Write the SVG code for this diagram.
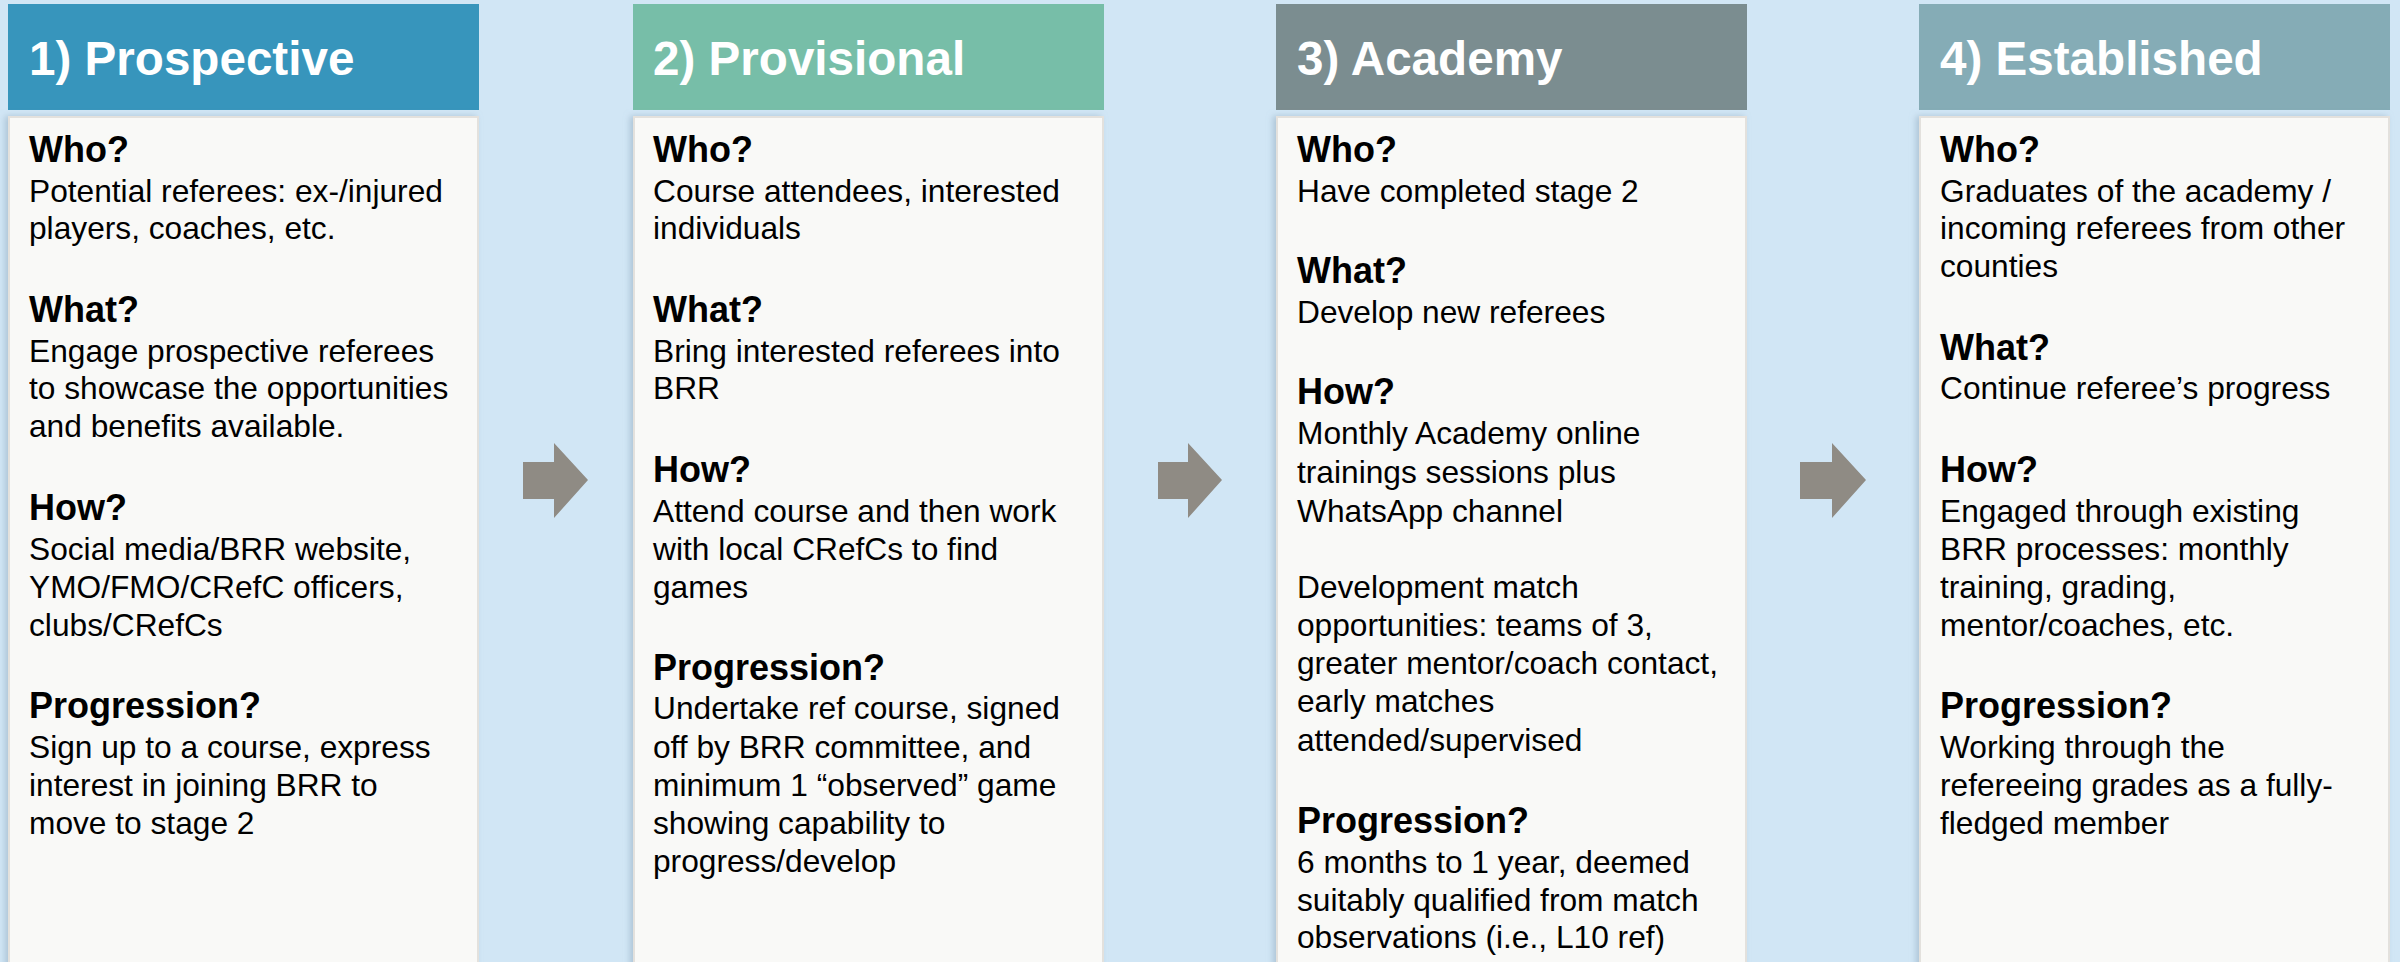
<svg xmlns="http://www.w3.org/2000/svg" width="2400" height="962" viewBox="0 0 2400 962">
<defs>
<filter id="sh" x="-5%" y="-5%" width="110%" height="110%">
<feDropShadow dx="-3" dy="0" stdDeviation="3" flood-color="#8FA9BD" flood-opacity="0.55"/>
</filter>
</defs>
<style>
.bg{fill:#D1E6F5}
.hd{font-family:"Liberation Sans",Arial,sans-serif;font-weight:bold;font-size:47.6px;fill:#FFFFFF}
.body{fill:#F9F9F7;stroke:#E3E1DD;stroke-width:2}
.q{font-family:"Liberation Sans",Arial,sans-serif;font-weight:bold;font-size:36px;fill:#000}
.t{font-family:"Liberation Sans",Arial,sans-serif;font-size:31.7px;fill:#000}
.arrow{fill:#8F8B84}
</style>
<rect class="bg" x="0" y="0" width="2400" height="962"/>

<g id="stage1">
<rect x="8" y="4" width="471" height="106" fill="#3795BC"/>
<text class="hd" x="29" y="75">1) Prospective</text>
<rect class="body" x="9" y="117" width="469" height="860" filter="url(#sh)"/>
<text class="q" x="29" y="162">Who?</text>
<text class="t" x="29" y="201.7">Potential referees: ex-/injured</text>
<text class="t" x="29" y="239.3">players, coaches, etc.</text>
<text class="q" x="29" y="321.7">What?</text>
<text class="t" x="29" y="361.7">Engage prospective referees</text>
<text class="t" x="29" y="399.3">to showcase the opportunities</text>
<text class="t" x="29" y="436.9">and benefits available.</text>
<text class="q" x="29" y="520">How?</text>
<text class="t" x="29" y="560">Social media/BRR website,</text>
<text class="t" x="29" y="598.3">YMO/FMO/CRefC officers,</text>
<text class="t" x="29" y="636">clubs/CRefCs</text>
<text class="q" x="29" y="718.3">Progression?</text>
<text class="t" x="29" y="757.7">Sign up to a course, express</text>
<text class="t" x="29" y="796">interest in joining BRR to</text>
<text class="t" x="29" y="834">move to stage 2</text>
</g>

<g id="stage2">
<rect x="633" y="4" width="471" height="106" fill="#77BEA8"/>
<text class="hd" x="653" y="75">2) Provisional</text>
<rect class="body" x="634" y="117" width="469" height="860" filter="url(#sh)"/>
<text class="q" x="653" y="162">Who?</text>
<text class="t" x="653" y="201.7">Course attendees, interested</text>
<text class="t" x="653" y="239.3">individuals</text>
<text class="q" x="653" y="321.7">What?</text>
<text class="t" x="653" y="361.7">Bring interested referees into</text>
<text class="t" x="653" y="399.3">BRR</text>
<text class="q" x="653" y="482">How?</text>
<text class="t" x="653" y="521.7">Attend course and then work</text>
<text class="t" x="653" y="560">with local CRefCs to find</text>
<text class="t" x="653" y="598.3">games</text>
<text class="q" x="653" y="680">Progression?</text>
<text class="t" x="653" y="719.3">Undertake ref course, signed</text>
<text class="t" x="653" y="757.7">off by BRR committee, and</text>
<text class="t" x="653" y="796">minimum 1 “observed” game</text>
<text class="t" x="653" y="834">showing capability to</text>
<text class="t" x="653" y="871.7">progress/develop</text>
</g>

<g id="stage3">
<rect x="1276" y="4" width="471" height="106" fill="#7B8D90"/>
<text class="hd" x="1297" y="75">3) Academy</text>
<rect class="body" x="1277" y="117" width="469" height="860" filter="url(#sh)"/>
<text class="q" x="1297" y="162">Who?</text>
<text class="t" x="1297" y="201.7">Have completed stage 2</text>
<text class="q" x="1297" y="283.3">What?</text>
<text class="t" x="1297" y="322.7">Develop new referees</text>
<text class="q" x="1297" y="404.3">How?</text>
<text class="t" x="1297" y="444.3">Monthly Academy online</text>
<text class="t" x="1297" y="482.5">trainings sessions plus</text>
<text class="t" x="1297" y="521.7">WhatsApp channel</text>
<text class="t" x="1297" y="598.3">Development match</text>
<text class="t" x="1297" y="636">opportunities: teams of 3,</text>
<text class="t" x="1297" y="674.3">greater mentor/coach contact,</text>
<text class="t" x="1297" y="712.3">early matches</text>
<text class="t" x="1297" y="750.7">attended/supervised</text>
<text class="q" x="1297" y="833.3">Progression?</text>
<text class="t" x="1297" y="873.3">6 months to 1 year, deemed</text>
<text class="t" x="1297" y="910.7">suitably qualified from match</text>
<text class="t" x="1297" y="948.3">observations (i.e., L10 ref)</text>
</g>

<g id="stage4">
<rect x="1919" y="4" width="471" height="106" fill="#85ACB6"/>
<text class="hd" x="1940" y="75">4) Established</text>
<rect class="body" x="1920" y="117" width="469" height="860" filter="url(#sh)"/>
<text class="q" x="1940" y="162">Who?</text>
<text class="t" x="1940" y="201.7">Graduates of the academy /</text>
<text class="t" x="1940" y="239.3">incoming referees from other</text>
<text class="t" x="1940" y="277.3">counties</text>
<text class="q" x="1940" y="360">What?</text>
<text class="t" x="1940" y="399.3">Continue referee’s progress</text>
<text class="q" x="1940" y="482">How?</text>
<text class="t" x="1940" y="521.7">Engaged through existing</text>
<text class="t" x="1940" y="560">BRR processes: monthly</text>
<text class="t" x="1940" y="598.3">training, grading,</text>
<text class="t" x="1940" y="636">mentor/coaches, etc.</text>
<text class="q" x="1940" y="718.3">Progression?</text>
<text class="t" x="1940" y="757.7">Working through the</text>
<text class="t" x="1940" y="796">refereeing grades as a fully-</text>
<text class="t" x="1940" y="834">fledged member</text>
</g>

<g id="connectors">
<polygon class="arrow" points="523,462 554,462 554,443 588,480 554,518 554,499 523,499"/>
<polygon class="arrow" points="1158,462 1188,462 1188,443 1222,480 1188,518 1188,499 1158,499"/>
<polygon class="arrow" points="1800,462 1832,462 1832,443 1866,480 1832,518 1832,499 1800,499"/>
</g>
</svg>
